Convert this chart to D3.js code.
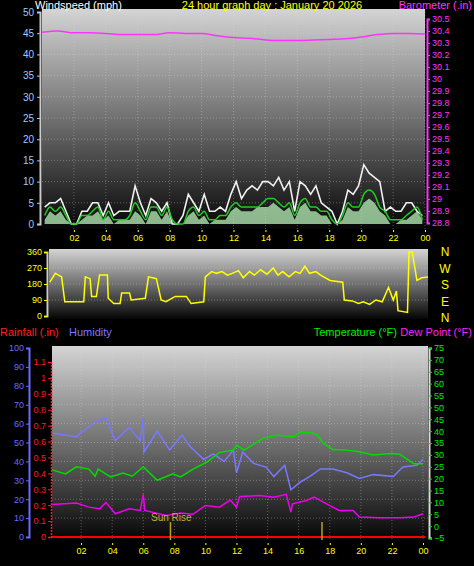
<!DOCTYPE html>
<html><head><meta charset="utf-8">
<script src="https://cdn.jsdelivr.net/npm/d3@7"></script>
<style>body{margin:0;background:#000}svg{display:block}</style>
</head><body>
<svg id="c" width="474" height="566"></svg>
<script>
// ---------- data ----------
const hourTicks = [2,4,6,8,10,12,14,16,18,20,22,24];
const hourLabels = ["02","04","06","08","10","12","14","16","18","20","22","00"];
// wind (every 20 min, 72 points)
const windGust = [4,5,5, 6,3,0, 0,3,3, 5,5,2, 5,2,3, 3,3,9, 5,2,6, 5,3,5, 0,0,2, 7,5,3, 7,3,3, 4,3,7, 10,6,8, 9,8,10, 10,9,11, 8,10,3, 10,9,7, 9,5,4, 3,0,3, 8,7,9, 14,12,11, 10,3,4, 3,3,5, 5,3,2];
const windAvg  = [2,4,3, 4,2,0, 0,2,2, 3,4,1, 3,1,1, 1,2,5, 3,1,4, 4,2,4, 1,0,0, 3,4,2, 3,1,1, 2,2,4, 5,4,4, 4,4,5, 6,6,5, 4,5,2, 5,6,4, 4,3,3, 1,0,2, 5,4,4, 7,8,7, 4,3,1, 1,1,2, 3,4,1];
const windSpeed= [1,3,2, 3,1,0, 0,1,2, 2,3,1, 2,0,1, 1,1,3, 2,0,3, 3,1,3, 0,0,0, 2,3,1, 2,0,1, 1,1,3, 4,3,3, 3,4,4, 4,5,4, 3,4,1, 4,5,3, 3,2,2, 0,0,1, 4,3,3, 5,6,5, 3,2,0, 0,1,1, 2,3,1];
const baroHours = [0,1,2,3,4,5,6,7,8,9,10,11,12,13,14,15,16,17,18,19,20,21,22,23,24];
const baroVals  = [30.39,30.40,30.385,30.385,30.38,30.37,30.37,30.37,30.385,30.38,30.38,30.36,30.345,30.34,30.325,30.32,30.32,30.325,30.33,30.335,30.35,30.37,30.38,30.38,30.375];
const dirHours = [0.05,0.4,0.8,1.0,2.2,2.3,2.6,2.7,3.0,3.2,3.7,3.75,4.1,4.5,4.6,5.1,5.2,6.1,6.3,6.8,7.1,7.4,8.0,8.7,9.0,9.8,9.9,10.3,10.6,10.95,11.3,11.6,12.0,12.3,12.7,13.0,13.4,13.8,14.2,14.5,14.8,15.2,15.6,15.9,16.2,16.5,16.9,17.2,17.8,18.6,18.7,19.2,19.6,19.9,20.3,20.7,21.1,21.5,21.8,22.0,22.1,22.7,22.8,23.0,23.3,23.6,24];
const dirVals  = [190,240,220,80,80,220,210,110,110,230,230,100,70,70,130,130,90,100,220,210,90,80,110,110,70,80,220,250,240,250,230,240,255,215,250,230,260,235,270,230,250,220,250,240,280,240,250,230,200,190,90,85,70,80,65,90,80,160,90,140,30,20,360,360,200,215,220];
// bottom panel
const humHours = [0.1,1.7,2.9,3.6,4.2,5.1,5.8,6.0,6.05,6.9,7.7,8.5,9.0,9.9,10.5,11.2,11.8,12.0,12.4,13.1,13.9,14.4,15.1,15.5,16.1,16.7,17.4,18.2,19.1,19.9,20.8,22.1,22.7,23.6,24];
const humVals  = [55,53,61,63,51,58,51,63,45,56,46,54,48,41,44,40,46,34,45,39,37,32,38,25,29,32,36,36,34,31,33,32,37,38,41];
const tempHours = [0.1,1.0,1.7,2.5,2.9,3.1,3.9,4.7,5.3,6.0,6.9,7.9,8.4,9.2,10.1,10.9,11.8,12.0,12.5,13.7,14.6,15.7,16.1,17.0,17.2,17.6,18.2,19.1,19.9,20.8,21.9,22.5,23.4,24];
const tempVals  = [23.8,22,25,24,21,24,20.7,22.4,21,25,19.3,22,20.7,24,27,31,32,34,32,37,38.3,37.6,39.7,39,38.3,34.8,32.3,32,31.3,30,30.6,30.3,26.3,26.3];
const dewHours = [0.1,1.7,2.5,3.2,3.6,4.2,5.1,5.8,6.0,6.1,7.5,8.4,9.2,10.0,10.9,11.6,12.0,12.2,13.5,14.4,15.2,15.5,15.6,16.5,17.0,17.8,18.6,19.5,19.9,21.2,22.5,23.4,24];
const dewVals  = [9.1,9.7,8,7.3,10,5.2,7.3,6.6,13.4,6.6,4.5,5.5,5,8.7,8,11,8,12.5,12.9,12.2,13.4,5.9,9.4,10.8,12.2,9.4,6.6,6.6,3.8,3.5,3.5,3.8,5.2];
const rainHours = [0,24];
const rainVals = [0,0];
const sunEvents = [7.75,17.5];

// ---------- drawing ----------
const svg = d3.select("#c");
const F = "Liberation Sans, Arial, sans-serif";
const defs = svg.append("defs");
const g = defs.append("linearGradient").attr("id","bg").attr("x1",0).attr("y1",0).attr("x2",0).attr("y2",1);
g.append("stop").attr("offset","0%").attr("stop-color","#d4d4d4");
g.append("stop").attr("offset","50%").attr("stop-color","#707070");
g.append("stop").attr("offset","100%").attr("stop-color","#050505");

function panel(x0,x1,y0,y1){
  svg.append("rect").attr("x",x0).attr("y",y0).attr("width",x1-x0).attr("height",y1-y0).attr("fill","url(#bg)");
}
function text(x,y,t,c,size,anchor){
  svg.append("text").attr("x",x).attr("y",y).text(t).attr("fill",c).attr("font-family",F)
    .attr("font-size",size||12).attr("text-anchor",anchor||"start");
}
function axisStyle(sel,color,size){
  sel.selectAll("text").attr("fill",color).attr("font-family",F).attr("font-size",size||9);
  sel.selectAll("line").attr("stroke",color);
  sel.select(".domain").attr("stroke",color);
}
function vgrid(x,y0,y1){
  svg.append("g").selectAll("line").data(hourTicks).join("line")
   .attr("x1",d=>x(d)).attr("x2",d=>x(d)).attr("y1",y0).attr("y2",y1)
   .attr("stroke","#ddd").attr("stroke-opacity",0.35).attr("stroke-dasharray","1,2");
}
function hgrid(y,ticks,x0,x1){
  svg.append("g").selectAll("line").data(ticks).join("line")
   .attr("x1",x0).attr("x2",x1).attr("y1",d=>y(d)).attr("y2",d=>y(d))
   .attr("stroke","#ddd").attr("stroke-opacity",0.35).attr("stroke-dasharray","1,2");
}

// ---- top panel ----
const xT = d3.scaleLinear().domain([0,24]).range([42,425]);
const yW = d3.scaleLinear().domain([0,50]).range([224,12]);
const yB = d3.scaleLinear().domain([28.8,30.5]).range([223,19]);
panel(42,425,9,229);
vgrid(xT,9,229); hgrid(yW,d3.range(5,51,5),42,425);
const wx = (d,i)=>xT(i/3+1/6);
svg.append("path").datum(windGust).attr("fill","none").attr("stroke","#f0f0f0").attr("stroke-width",1.6)
  .attr("d",d3.line().x(wx).y(d=>yW(d)));
svg.append("path").datum(windSpeed).attr("fill","#b8f0b8").attr("fill-opacity",0.75)
  .attr("d",d3.area().x(wx).y0(yW(0)).y1(d=>yW(d)));
svg.append("path").datum(windAvg).attr("fill","none").attr("stroke","#22cc22").attr("stroke-width",1.5)
  .attr("d",d3.line().x(wx).y(d=>yW(d)).curve(d3.curveMonotoneX));
svg.append("path").datum(baroVals).attr("fill","none").attr("stroke","#ff33ff").attr("stroke-width",1.5)
  .attr("d",d3.line().x((d,i)=>xT(baroHours[i])).y(d=>yB(d)).curve(d3.curveMonotoneX));
let a = svg.append("g").attr("transform","translate(40,0)").call(d3.axisLeft(yW).tickValues(d3.range(0,51,5)).tickSize(3).tickPadding(3));
axisStyle(a,"#9ec8ff",10); a.select(".domain").attr("stroke","#ccc").attr("stroke-width",2);
a = svg.append("g").attr("transform","translate(427,0)").call(d3.axisRight(yB).tickValues(d3.range(28.8,30.51,0.1)).tickFormat(d3.format(".1~f")).tickSize(3).tickPadding(2));
axisStyle(a,"#ff33ff",9); a.select(".domain").attr("stroke","#ff33ff").attr("stroke-width",2);
a = svg.append("g").attr("transform","translate(0,230)").call(d3.axisBottom(xT).tickValues(hourTicks).tickFormat((d,i)=>hourLabels[i]).tickSize(2));
axisStyle(a,"#ffff00",9); a.select(".domain").remove();
text(35,9,"Windspeed (mph)","#fff",11);
text(272,9,"24 hour graph day : January 20 2026","#ffff00",11,"middle");
text(472,9,"Barometer (.in)","#ff33ff",11,"end");

// ---- middle panel ----
const xM = d3.scaleLinear().domain([0,24]).range([49,428]);
const yD = d3.scaleLinear().domain([0,360]).range([316,252]);
panel(49,428,249,319);
hgrid(yD,[90,180,270],49,428);
svg.append("path").datum(dirVals).attr("fill","none").attr("stroke","#ffff00").attr("stroke-width",1.5)
  .attr("d",d3.line().x((d,i)=>xM(dirHours[i])).y(d=>yD(d)));
a = svg.append("g").attr("transform","translate(47,0)").call(d3.axisLeft(yD).tickValues([0,90,180,270,360]).tickSize(3).tickPadding(2));
axisStyle(a,"#ffff00",9); a.select(".domain").attr("stroke","#ccc").attr("stroke-width",2);
["N","W","S","E","N"].forEach((t,i)=>text(445,[256,273,289,306,322][i]-0,t,"#ffff00",12,"middle"));

// legend row
text(0,336,"Rainfall (.in)","#ff2020",11);
text(69,336,"Humidity","#7878ff",11);
text(397,336,"Temperature (°F)","#00ee00",11,"end");
text(472,336,"Dew Point (°F)","#ff22ff",11,"end");

// ---- bottom panel ----
const xB = d3.scaleLinear().domain([0,24]).range([50,423]);
const yH = d3.scaleLinear().domain([0,100]).range([537,348]);
const yR = d3.scaleLinear().domain([0,1.1]).range([537,362]);
const yTp = d3.scaleLinear().domain([-5,75]).range([538,348]);
panel(52,428,346,540);
vgrid(xB,346,540); hgrid(yH,d3.range(10,101,10),52,428);
const line = (hs,ys,y)=>d3.line().x((d,i)=>xB(hs[i])).y(d=>y(d));
svg.append("path").datum(humVals).attr("fill","none").attr("stroke","#7878ff").attr("stroke-width",1.5).attr("d",line(humHours,humVals,yH));
svg.append("path").datum(tempVals).attr("fill","none").attr("stroke","#00dd00").attr("stroke-width",1.5).attr("d",line(tempHours,tempVals,yTp));
svg.append("path").datum(dewVals).attr("fill","none").attr("stroke","#ee00ee").attr("stroke-width",1.5).attr("d",line(dewHours,dewVals,yTp));
svg.append("path").datum(rainVals).attr("fill","none").attr("stroke","#ff0000").attr("stroke-width",2).attr("d",d3.line().x((d,i)=>xB(rainHours[i])+2).y(d=>yR(d)));
svg.append("g").selectAll("line").data(sunEvents).join("line").attr("x1",d=>xB(d)).attr("x2",d=>xB(d))
  .attr("y1",522).attr("y2",540).attr("stroke","#b8a020").attr("stroke-width",1.5);
text(151,521,"Sun Rise","#c8b030",10);
a = svg.append("g").attr("transform","translate(29,0)").call(d3.axisLeft(yH).tickValues(d3.range(0,101,10)).tickSize(3).tickPadding(2));
axisStyle(a,"#6a6aff",9); a.select(".domain").attr("stroke","#6a6aff").attr("stroke-width",2);
a = svg.append("g").attr("transform","translate(51,0)").call(d3.axisLeft(yR).tickValues(d3.range(0,1.11,0.1)).tickFormat(d3.format(".1~f")).tickSize(3).tickPadding(2));
axisStyle(a,"#ff1a1a",9); a.select(".domain").attr("stroke","#ff1a1a").attr("stroke-dasharray","2,1").attr("stroke-width",1.5);
a = svg.append("g").attr("transform","translate(429,0)").call(d3.axisRight(yTp).tickValues(d3.range(-5,76,5)).tickSize(3).tickPadding(2));
axisStyle(a,"#00ee00",9); a.select(".domain").attr("stroke","#ddd").attr("stroke-width",2);
a = svg.append("g").attr("transform","translate(0,543)").call(d3.axisBottom(xB).tickValues(hourTicks).tickFormat((d,i)=>hourLabels[i]).tickSize(2));
axisStyle(a,"#ffff00",9); a.select(".domain").remove();
</script>
</body></html>
